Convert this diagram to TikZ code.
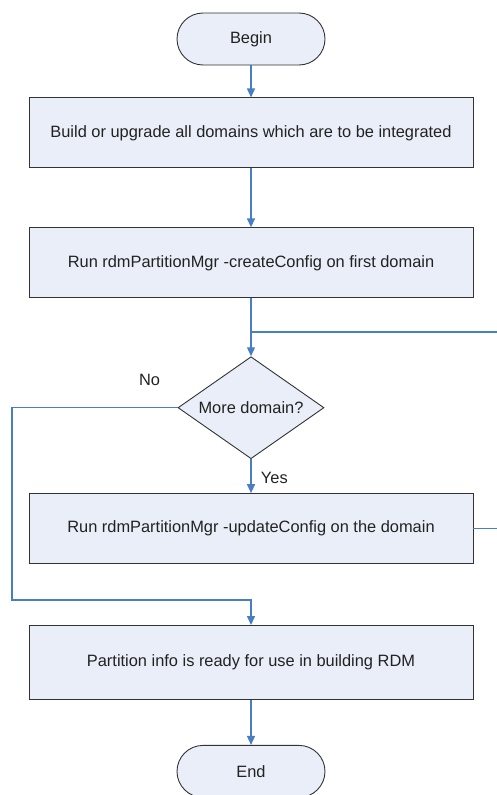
\documentclass[tikz,border=0pt]{standalone}
\usepackage{fontspec}
\setmainfont{Liberation Sans}
\usepackage{tikz}
\usetikzlibrary{arrows.meta,positioning,calc,shapes.geometric}
\usepackage{xcolor}
\definecolor{FlowFill}{HTML}{E9EEF8}
\definecolor{FlowBlue}{HTML}{4A7EC4}
\definecolor{FlowEdge}{HTML}{333333}
\definecolor{FlowText}{HTML}{222222}

\begin{document}
\begin{tikzpicture}[font=\fontsize{16.4}{19}\selectfont, text=FlowText, node distance=33pt]
        \useasboundingbox (0,0) rectangle (496pt,-795pt);
        \node[draw=FlowEdge,line width=0.9pt,rounded corners=26pt,fill=FlowFill,minimum width=148pt,minimum height=52pt] (begin) at (251pt,-39pt) {Begin};
        \node[draw=FlowEdge,line width=0.9pt,fill=FlowFill,below=32pt of begin,minimum width=444pt,minimum height=70pt] (build) {Build or upgrade all domains which are to be integrated};
        \node[draw=FlowEdge,line width=0.9pt,fill=FlowFill,below=59pt of build,minimum width=444pt,minimum height=70pt] (create) {Run rdmPartitionMgr -createConfig on first domain};
        \node[draw=FlowEdge,line width=0.9pt,fill=FlowFill,diamond,shape aspect=1.43,inner sep=0pt,below=58pt of create,minimum width=146pt,minimum height=102pt] (more) {More domain?};
        \node[draw=FlowEdge,line width=0.9pt,fill=FlowFill,below=34pt of more,minimum width=444pt,minimum height=70pt] (update) {Run rdmPartitionMgr -updateConfig on the domain};
        \node[draw=FlowEdge,line width=0.9pt,fill=FlowFill,below=61pt of update,minimum width=444pt,minimum height=74pt] (ready) {Partition info is ready for use in building RDM};
        \node[draw=FlowEdge,line width=0.9pt,rounded corners=26pt,fill=FlowFill,below=45pt of ready,minimum width=148pt,minimum height=52pt] (end) {End};
        \node (no) at ($(more.west)+(-28pt,28pt)$) {No};
        \coordinate (nobend) at (12pt,-600pt);
        \coordinate (loopback) at (506pt,-332pt);
        \draw[-{Triangle[length=9pt,width=8pt]},line width=1.3pt,FlowBlue] (begin)--(build);
        \draw[-{Triangle[length=9pt,width=8pt]},line width=1.3pt,FlowBlue] (build)--(create);
        \draw[-{Triangle[length=9pt,width=8pt]},line width=1.3pt,FlowBlue] (create)--(more);
        \draw[-{Triangle[length=9pt,width=8pt]},line width=1.3pt,FlowBlue] (more)-- node[pos=0.55,right=6pt,text=FlowText] (yes) {Yes} (update);
        \draw[-{Triangle[length=9pt,width=8pt]},line width=1.3pt,FlowBlue] (more.west)-|(nobend)-|(ready.north);
        \draw[line width=1.3pt,FlowBlue] (update.east)-|(loopback)--(create.south|-loopback);
        \draw[-{Triangle[length=9pt,width=8pt]},line width=1.3pt,FlowBlue] (ready)--(end);
      \end{tikzpicture}
\end{document}
